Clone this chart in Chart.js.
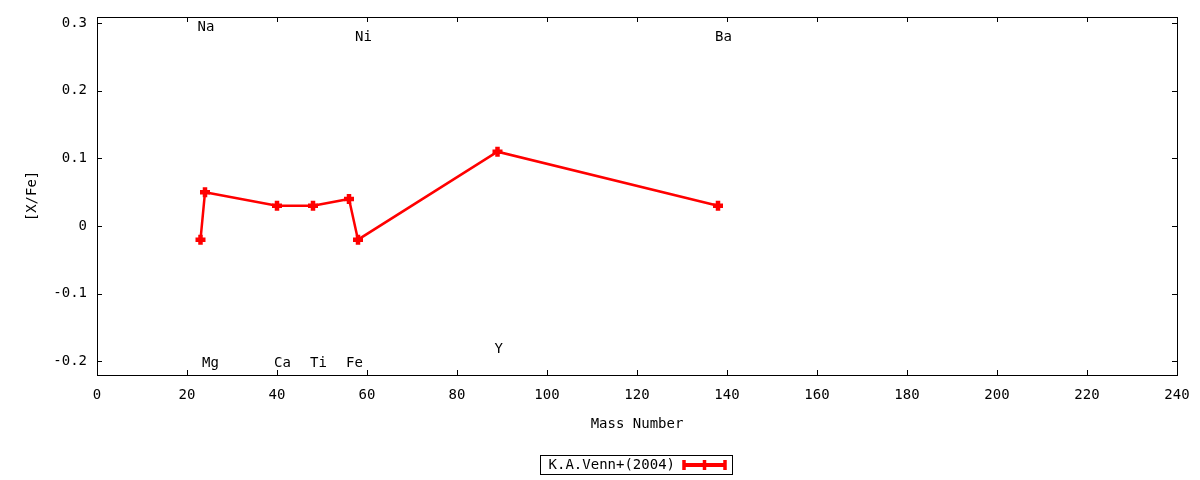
<!DOCTYPE html>
<html>
<head>
<meta charset="utf-8">
<script src="https://cdn.jsdelivr.net/npm/chart.js@4/dist/chart.umd.min.js"></script>
<style>
  html, body { margin: 0; background: #fff; }
  #wrap { width: 1200px; height: 480px; }
</style>
</head>
<body>
<div id="wrap"><canvas id="abundChart"></canvas></div>
<script>
// abundance ratios, K.A.Venn+(2004)
const elements = ['Na', 'Mg', 'Ca', 'Ti', 'Fe', 'Ni', 'Y', 'Ba'];
const massNumbers = [23, 24, 40, 48, 56, 58, 89, 138];
const abundances = [-0.02, 0.05, 0.03, 0.03, 0.04, -0.02, 0.11, 0.03];
// where each element name sits, in [X/Fe] units
const labelLevels = [0.294, -0.203, -0.203, -0.203, -0.203, 0.279, -0.182, 0.279];
const xTicks = [0, 20, 40, 60, 80, 100, 120, 140, 160, 180, 200, 220, 240];
const yTicks = [-0.2, -0.1, 0, 0.1, 0.2, 0.3];
const seriesName = 'K.A.Venn+(2004)';

const FONT = "'DejaVu Sans Mono', monospace";
const FSIZE = 14;

const gnuplotLook = {
  id: 'gnuplotLook',
  afterDatasetsDraw(chart) {
    const {ctx, chartArea: a, scales: {x, y}} = chart;
    ctx.save();
    // frame
    ctx.strokeStyle = '#000';
    ctx.lineWidth = 1;
    ctx.strokeRect(Math.round(a.left) + 0.5, Math.round(a.top) + 0.5,
      Math.round(a.right - a.left), Math.round(a.bottom - a.top));
    // inward ticks, mirrored
    ctx.beginPath();
    xTicks.forEach(v => {
      const px = Math.round(x.getPixelForValue(v)) + 0.5;
      ctx.moveTo(px, a.bottom); ctx.lineTo(px, a.bottom - 5);
      ctx.moveTo(px, a.top); ctx.lineTo(px, a.top + 5);
    });
    yTicks.forEach(v => {
      const py = Math.round(y.getPixelForValue(v)) + 0.5;
      ctx.moveTo(a.left, py); ctx.lineTo(a.left + 5, py);
      ctx.moveTo(a.right, py); ctx.lineTo(a.right - 5, py);
    });
    ctx.stroke();
    // element names
    ctx.fillStyle = '#000';
    ctx.font = FSIZE + 'px ' + FONT;
    ctx.textAlign = 'left';
    ctx.textBaseline = 'middle';
    elements.forEach((el, i) => {
      ctx.fillText(el, x.getPixelForValue(massNumbers[i]) - 3, y.getPixelForValue(labelLevels[i]));
    });
    // legend box
    const ds = chart.data.datasets[0];
    ctx.strokeRect(540.5, 455.5, 192, 19);
    ctx.textAlign = 'right';
    ctx.fillText(ds.label, 675, 465);
    ctx.strokeStyle = ds.borderColor;
    ctx.lineWidth = 4;
    ctx.beginPath();
    ctx.moveTo(684, 465); ctx.lineTo(725, 465);
    ctx.stroke();
    ctx.lineWidth = 3.5;
    ctx.beginPath();
    [684, 725].forEach(px => { ctx.moveTo(px, 460); ctx.lineTo(px, 470); });
    ctx.moveTo(704.5, 460); ctx.lineTo(704.5, 470);
    ctx.stroke();
    ctx.restore();
  }
};

new Chart(document.getElementById('abundChart'), {
  type: 'scatter',
  data: {
    datasets: [{
      label: seriesName,
      data: massNumbers.map((m, i) => ({x: m, y: abundances[i]})),
      showLine: true,
      borderColor: '#ff0000',
      backgroundColor: '#ff0000',
      borderWidth: 2.5,
      pointStyle: 'cross',
      pointRadius: 5,
      pointBorderWidth: 4.5,
      pointHoverRadius: 5
    }]
  },
  options: {
    responsive: true,
    maintainAspectRatio: false,
    animation: false,
    events: [],
    layout: { padding: { left: 0, right: 23, top: 17, bottom: 0 } },
    plugins: { legend: { display: false }, tooltip: { enabled: false } },
    scales: {
      x: {
        type: 'linear',
        min: 0, max: 240,
        afterBuildTicks: s => { s.ticks = xTicks.map(v => ({value: v})); },
        afterFit: s => { s.height = 105; s.paddingLeft = 0; s.paddingRight = 0; },
        grid: { display: false, drawTicks: false },
        border: { display: false },
        ticks: { color: '#000', font: { family: FONT, size: FSIZE }, padding: 12, maxRotation: 0 },
        title: { display: true, text: 'Mass Number', color: '#000',
                 font: { family: FONT, size: FSIZE }, padding: { top: 0, bottom: 47 } }
      },
      y: {
        type: 'linear',
        min: -0.22, max: 0.309,
        afterBuildTicks: s => { s.ticks = yTicks.map(v => ({value: v})); },
        afterFit: s => { s.width = 97; s.paddingTop = 0; s.paddingBottom = 0; },
        grid: { display: false, drawTicks: false },
        border: { display: false },
        ticks: { color: '#000', font: { family: FONT, size: FSIZE }, padding: 10,
                 callback: v => String(+v.toFixed(1)) },
        title: { display: true, text: '[X/Fe]', color: '#000',
                 font: { family: FONT, size: FSIZE }, padding: { top: 24, bottom: 0 } }
      }
    }
  },
  plugins: [gnuplotLook]
});
</script>
</body>
</html>
